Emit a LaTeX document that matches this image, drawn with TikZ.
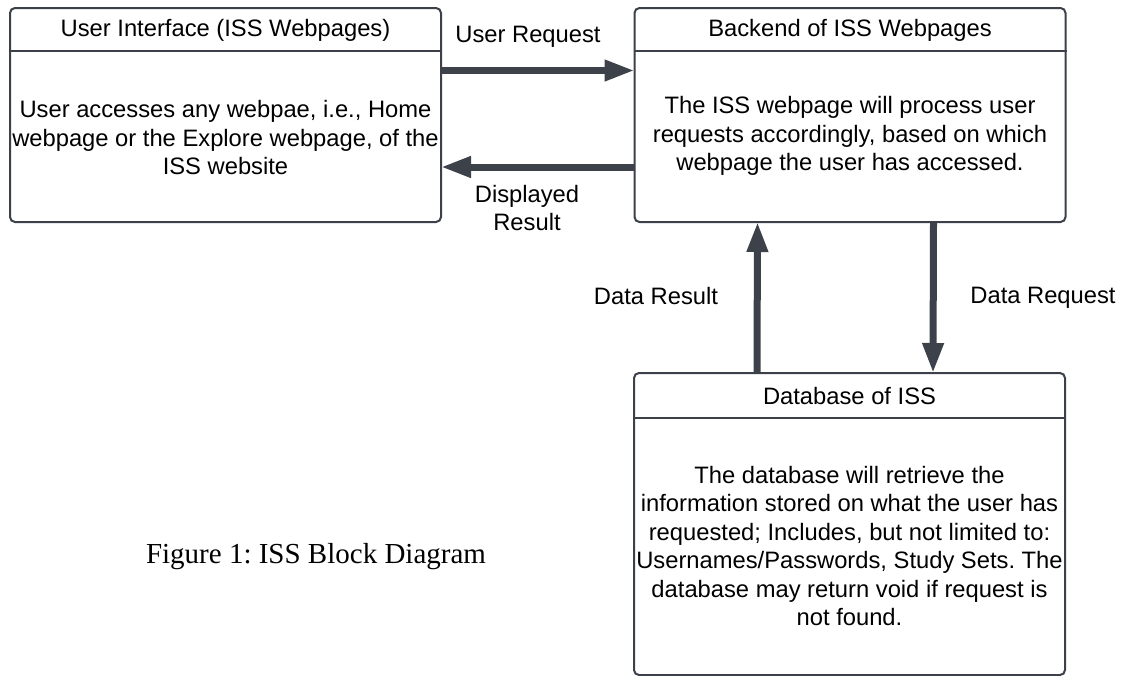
\documentclass[tikz,border=0pt]{standalone}
\usepackage{fontspec}
\setmainfont{Liberation Sans}
\newfontfamily\capfont{Liberation Serif}
\usetikzlibrary{arrows.meta}
\frenchspacing
\definecolor{edge}{HTML}{3B4049}
\definecolor{flow}{HTML}{3D424A}
\tikzset{
  block/.style={draw=edge, line width=2pt, rounded corners=5pt, fill=white,
    inner sep=0pt, minimum width=431pt, minimum height=214pt},
  title/.style={font=\fontsize{23.75}{28.5}\selectfont, inner sep=0pt, anchor=center},
  body/.style={font=\fontsize{23.75}{28.5}\selectfont, align=center, inner sep=0pt},
  lbl/.style={font=\fontsize{23.75}{28.5}\selectfont, align=center, inner sep=0pt},
  flowarrow/.style={draw=flow, line width=7pt,
    -{Triangle[length=30pt, width=20pt]}, shorten >=-1pt, shorten <=-1pt},
  divider/.style={draw=edge, line width=2pt}
}
\begin{document}
\begin{tikzpicture}[x=1pt, y=-1pt]
\useasboundingbox (0,0) rectangle (1130,675);

% blocks
\node[block] (ui) at (225.5,115) {};
\node[block] (be) at (850,115) {};
\node[block, minimum height=302pt] (db) at (849.5,524) {};

% header dividers
\draw[divider] ([yshift=-44pt]ui.north west) -- ([yshift=-44pt]ui.north east);
\draw[divider] ([yshift=-44pt]be.north west) -- ([yshift=-44pt]be.north east);
\draw[divider] ([yshift=-46pt]db.north west) -- ([yshift=-46pt]db.north east);

% block titles
\node[title] (uit) at (225.5,30) {User Interface (ISS Webpages)};
\node[title] (bet) at (850,30) {Backend of ISS Webpages};
\node[title] (dbt) at (849.5,396) {Database of ISS};

% block contents
\node[body] (uib) at (225.5,138) {User accesses any webpae, i.e., Home\\webpage or the Explore webpage, of the\\ISS website};
\node[body] (beb) at (850,136) {The ISS webpage will process user\\requests accordingly, based on which\\webpage the user has accessed.};
\node[body] (dbb) at (849.5,546) {The database will retrieve the\\information stored on what the user has\\requested; Includes, but not limited to:\\Usernames/Passwords, Study Sets. The\\database may return void if request is\\not found.};

% flows between blocks
\draw[flowarrow] ([yshift=-63.5pt]ui.north east) -- ([yshift=-63.5pt]be.north west);
\draw[flowarrow] ([yshift=-160pt]be.north west) -- ([yshift=-160pt]ui.north east);
\draw[flowarrow] ([xshift=124pt]db.north west) -- ([xshift=124pt]be.south west);
\draw[flowarrow] ([xshift=300pt]be.south west) -- ([xshift=300pt]db.north west);

% flow labels
\node[lbl] (l1) at (528,37) {User Request};
\node[lbl] (l2) at (527,208) {Displayed\\Result};
\node[lbl] (l3) at (656,296) {Data Result};
\node[lbl] (l4) at (1043,298) {Data Request};

% caption
\node[font=\capfont\fontsize{29}{34}\selectfont, inner sep=0pt] (cap) at (316,557) {Figure 1: ISS Block Diagram};
\end{tikzpicture}
\end{document}
